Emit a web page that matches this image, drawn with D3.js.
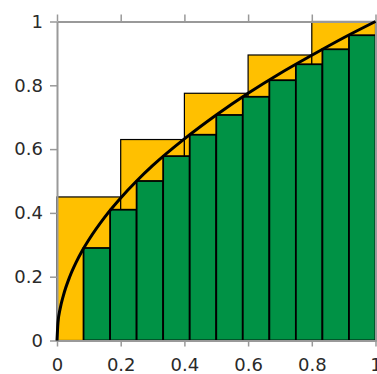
<!DOCTYPE html>
<html>
<head>
<meta charset="utf-8">
<script src="https://cdn.jsdelivr.net/npm/d3@7.9.0/dist/d3.min.js"></script>
<style>
  body { margin: 0; background: #fff; }
  svg { display: block; }
</style>
</head>
<body>
<svg id="chart"></svg>
<script>
// upper sum, 5 intervals (yellow)
const upperEdges = [0, 0.2, 0.4, 0.6, 0.8, 1];
const upperHeights = [0.45, 0.63, 0.775, 0.895, 1];

// lower sum, 12 intervals (green)
const lowerEdges = [0, 0.0833, 0.1667, 0.25, 0.3333, 0.4167, 0.5, 0.5833, 0.6667, 0.75, 0.8333, 0.9167, 1];
const lowerHeights = [0, 0.29, 0.41, 0.5, 0.578, 0.645, 0.707, 0.764, 0.816, 0.866, 0.913, 0.957];

// curve samples
const curveX = [0, 0.003, 0.01, 0.02, 0.04, 0.06, 0.08, 0.1, 0.15, 0.2, 0.25, 0.3, 0.4, 0.5, 0.6, 0.7, 0.8, 0.9, 1];
const curveY = [0, 0.055, 0.1, 0.141, 0.2, 0.245, 0.283, 0.316, 0.387, 0.447, 0.5, 0.548, 0.632, 0.707, 0.775, 0.837, 0.894, 0.949, 1];

const ticks = [0, 0.2, 0.4, 0.6, 0.8, 1];

const svgWidth = 377, svgHeight = 374;
const svg = d3.select("#chart").attr("width", svgWidth).attr("height", svgHeight);

const x = d3.scaleLinear().domain([0, 1]).range([57, 375.5]);
const y = d3.scaleLinear().domain([0, 1]).range([340.5, 21.5]);

const toBars = (edges, heights) => heights
    .map((h, i) => ({ x0: edges[i], x1: edges[i + 1], h: h }))
    .filter(d => d.h > 0);

// yellow rectangles
svg.append("g").selectAll("rect")
    .data(toBars(upperEdges, upperHeights))
    .enter().append("rect")
    .attr("x", d => x(d.x0))
    .attr("y", d => y(d.h))
    .attr("width", d => x(d.x1) - x(d.x0))
    .attr("height", d => y(0) - y(d.h))
    .attr("fill", "#ffc000")
    .attr("stroke", "#000")
    .attr("stroke-width", 1.2);

// green rectangles
svg.append("g").selectAll("rect")
    .data(toBars(lowerEdges, lowerHeights))
    .enter().append("rect")
    .attr("x", d => x(d.x0))
    .attr("y", d => y(d.h))
    .attr("width", d => x(d.x1) - x(d.x0))
    .attr("height", d => y(0) - y(d.h))
    .attr("fill", "#009245")
    .attr("stroke", "#000")
    .attr("stroke-width", 1.8);

// frame and axes
const axisColor = "#999";
const styleAxis = g => {
    g.select(".domain").attr("stroke", axisColor).attr("stroke-width", 2);
    g.selectAll(".tick line").attr("stroke", axisColor).attr("stroke-width", 1.5);
    g.selectAll("text")
        .attr("fill", "#2a2a2a")
        .style("font-family", "'DejaVu Sans', sans-serif")
        .style("font-size", "18px");
};

svg.append("g")
    .attr("transform", `translate(0, ${y(0)})`)
    .call(d3.axisBottom(x).tickValues(ticks).tickFormat(d3.format("")).tickSize(6).tickSizeOuter(0).tickPadding(12))
    .call(styleAxis);

svg.append("g")
    .attr("transform", `translate(0, ${y(1)})`)
    .call(d3.axisTop(x).tickValues(ticks).tickFormat("").tickSize(7).tickSizeOuter(0))
    .call(styleAxis);

svg.append("g")
    .attr("transform", `translate(${x(0)}, 0)`)
    .call(d3.axisLeft(y).tickValues(ticks).tickFormat(d3.format("")).tickSize(7).tickSizeOuter(0).tickPadding(7))
    .call(styleAxis);

svg.append("g")
    .attr("transform", `translate(${x(1)}, 0)`)
    .call(d3.axisRight(y).tickValues(ticks).tickFormat("").tickSize(7).tickSizeOuter(0))
    .call(styleAxis);

// curve
const line = d3.line()
    .x(d => x(d[0]))
    .y(d => y(d[1]))
    .curve(d3.curveMonotoneX);

svg.append("path")
    .datum(curveX.map((v, i) => [v, curveY[i]]))
    .attr("d", line)
    .attr("fill", "none")
    .attr("stroke", "#000")
    .attr("stroke-width", 3);
</script>
</body>
</html>
